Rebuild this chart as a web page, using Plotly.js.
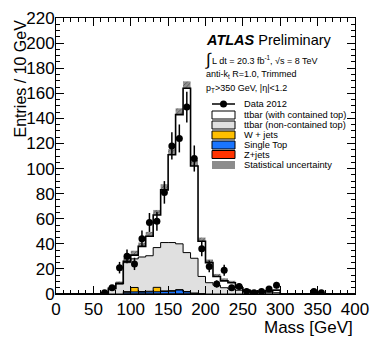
<!DOCTYPE html>
<html>
<head>
<meta charset="utf-8">
<script src="https://cdn.plot.ly/plotly-3.0.1.min.js"></script>
<style>
  html, body { margin: 0; padding: 0; background: #fff; }
  #chart { width: 374px; height: 351px; }
</style>
</head>
<body>
<div id="chart"></div>
<script>
// 10 GeV bins from 0 to 400 GeV (40 bins)
var zJets      = [0,0,0,0,0,0,0,0,0,0.2,0.2,0.2,0.2,0.2,0.2,0.2,0.2,0.2,0,0,0,0,0,0,0,0,0,0,0,0,0,0,0,0,0,0,0,0,0,0];
var singleTop  = [0,0,0,0,0,0,0,0,0,1.2,1.5,1.3,1.5,1.6,1.8,2.0,3.0,1.5,0.5,0.3,0,0,0,0,0,0,0,0,0,0,0,0,0,0,0,0,0,0,0,0];
var wJets      = [0,0,0,0,0,0,0,0,0,0.5,3.5,0.5,0.5,3.5,0.5,0.5,0.3,0.3,0.3,0,0,0,0,0,0,0,0,0,0,0,0,0,0,0,0,0,0,0,0,0];
var ttNonCont  = [0,0,0,0,0,0,0.5,4,8,23.1,22.8,27.5,28.3,31.7,38.5,38.3,36.5,31,27.7,13.7,9,7,5,4,3,2,1,1,1,1,0,0,0,0,0,0,0,0,0,0];
var ttCont     = [0,0,0,0,0,0,0.5,0.5,0.5,1,3,8.5,15.5,26,42,70,103,131,73.5,28,16,7,5.5,5,2,1,1,1,1.5,2,0,0,0,0,0,0,0,0,0,0];
var statErr    = [0,0,0,0,0,0,0.5,1,1.5,3,3.5,3,3.5,4,4.5,4.5,5,5.5,5,3,2.5,2,2,1.5,1.5,1,1,1,1,1,0,0,0,0,0,0,0,0,0,0];
var data2012   = [null,null,null,null,null,null,1,5,21,30,24,44,57,58,81,118,124,149,108,36,22,8,19,5,6,2,1,2,4,7,null,null,null,null,2,1,null,null,null,null];

var components = [
  {name: 'Z+jets', y: zJets, color: '#ff3300'},
  {name: 'Single Top', y: singleTop, color: '#1a75ff'},
  {name: 'W + jets', y: wJets, color: '#ffbf00'},
  {name: 'ttbar (non-contained top)', y: ttNonCont, color: '#e0e0e0'},
  {name: 'ttbar (with contained top)', y: ttCont, color: '#ffffff'}
];

var traces = [];
var cum = zJets.map(function() { return 0; });
components.forEach(function(c, i) {
  cum = cum.map(function(v, k) { return v + c.y[k]; });
  var ys = cum.concat([cum[cum.length - 1]]);
  traces.push({
    type: 'scatter', mode: 'lines', x0: 0, dx: 10, y: ys,
    line: {shape: 'hv', color: '#000', width: i == components.length - 1 ? 1.6 : 1},
    fill: i == 0 ? 'tozeroy' : 'tonexty', fillcolor: c.color,
    name: c.name, showlegend: false, hoverinfo: 'skip'
  });
});
var total = cum;

// statistical uncertainty boxes
traces.push({
  type: 'bar', x0: 5, dx: 10, width: 10,
  y: statErr.map(function(e) { return 2 * e; }),
  base: total.map(function(t, k) { return t - statErr[k]; }),
  marker: {color: 'rgba(115,115,115,0.85)', line: {width: 0},
           pattern: {shape: '/', fgcolor: 'rgba(50,50,50,0.7)', bgcolor: 'rgba(125,125,125,0.85)', size: 3, solidity: 0.25}},
  showlegend: false, hoverinfo: 'skip'
});

// data points
traces.push({
  type: 'scatter', mode: 'markers', x0: 5, dx: 10, y: data2012,
  marker: {color: '#000', size: 7},
  error_y: {type: 'sqrt', color: '#000', thickness: 1.5, width: 0},
  showlegend: false, hoverinfo: 'skip'
});

function px(X) { return (X - 56) / 299; }
function py(Y) { return (294 - Y) / 276; }

var font = 'Liberation Sans, Arial, sans-serif';
var annotations = [
  {x: px(9), y: py(79), text: 'Entries / 10 GeV', textangle: -90, font: {size: 16}},
  {x: 1, y: py(327), xanchor: 'right', text: 'Mass [GeV]', font: {size: 17}},
  {x: px(204), y: py(40), xanchor: 'left', text: '<b><i>ATLAS</i></b> Preliminary', font: {size: 14.5}},
  {x: px(203), y: py(59), xanchor: 'left', text: '\u222b', font: {size: 17}},
  {x: px(210), y: py(60), xanchor: 'left', text: 'L dt = 20.3 fb<sup>-1</sup>, \u221as = 8 TeV', font: {size: 9}},
  {x: px(204), y: py(74), xanchor: 'left', text: 'anti-k<sub>t</sub> R=1.0, Trimmed', font: {size: 9}},
  {x: px(204), y: py(88), xanchor: 'left', text: 'p<sub>T</sub>&gt;350 GeV, |\u03b7|&lt;1.2', font: {size: 9}}
];
var rowY = [104, 115, 125, 135, 145, 154.5, 165];
var rowText = ['Data 2012', 'ttbar (with contained top)', 'ttbar (non-contained top)', 'W + jets', 'Single Top', 'Z+jets', 'Statistical uncertainty'];
rowText.forEach(function(t, i) {
  annotations.push({x: px(242), y: py(rowY[i]), xanchor: 'left', text: t, font: {size: 9.3}});
});
annotations.forEach(function(a) {
  a.xref = 'paper'; a.yref = 'paper'; a.showarrow = false;
  if (!a.yanchor) a.yanchor = 'middle';
  a.font.family = font; a.font.color = '#000';
});

var shapes = [
  {type: 'line', x0: px(212), x1: px(235), y0: py(104), y1: py(104), line: {color: '#000', width: 1.5}},
  {type: 'circle', x0: px(220), x1: px(227), y0: py(107.5), y1: py(100.5), fillcolor: '#000', line: {color: '#000', width: 0}}
];
var boxColors = ['#ffffff', '#e0e0e0', '#ffbf00', '#1a75ff', '#ff3300'];
boxColors.forEach(function(c, i) {
  var Y = rowY[i + 1];
  shapes.push({type: 'rect', x0: px(212), x1: px(235), y0: py(Y + 4), y1: py(Y - 4),
               fillcolor: c, line: {color: '#000', width: 1}});
});
shapes.push({type: 'rect', x0: px(212), x1: px(235), y0: py(169), y1: py(161),
             fillcolor: 'rgba(120,120,120,0.85)', line: {width: 0}});
shapes.forEach(function(s) { s.xref = 'paper'; s.yref = 'paper'; });

var axisCommon = {
  showline: true, linecolor: '#000', linewidth: 1, mirror: 'allticks',
  ticks: 'inside', ticklen: 8, tickcolor: '#000', tickwidth: 1,
  showgrid: false, zeroline: false,
  tickfont: {family: font, size: 17, color: '#000'}
};

var layout = {
  width: 374, height: 351,
  margin: {l: 56, r: 19, t: 18, b: 57},
  paper_bgcolor: '#fff', plot_bgcolor: '#fff',
  showlegend: false, barmode: 'overlay',
  xaxis: Object.assign({}, axisCommon, {
    range: [0, 400], dtick: 50, tick0: 0,
    minor: {dtick: 10, ticks: 'inside', ticklen: 4, tickcolor: '#000'}
  }),
  yaxis: Object.assign({}, axisCommon, {
    range: [0, 220], dtick: 20, tick0: 0, ticklabelstandoff: -3,
    minor: {dtick: 5, ticks: 'inside', ticklen: 4, tickcolor: '#000'}
  }),
  annotations: annotations,
  shapes: shapes
};

Plotly.newPlot('chart', traces, layout, {displayModeBar: false, staticPlot: true});
</script>
</body>
</html>
